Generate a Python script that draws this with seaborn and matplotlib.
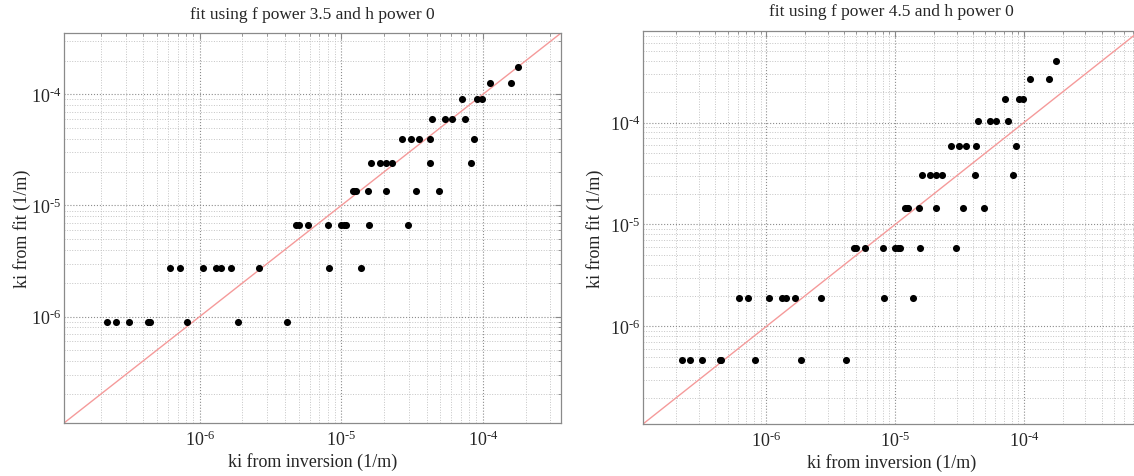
import numpy as np
import matplotlib
matplotlib.use('Agg')
import matplotlib.pyplot as plt
import matplotlib.ticker as mticker
import seaborn as sns

# ki from inversion, grouped by the fitted level they land on (lowest level first)
group_sizes = [8, 9, 9, 7, 6, 5, 4, 3, 2, 1]
ki_inversion = [
    2.21e-7, 2.55e-7, 3.17e-7, 4.34e-7, 4.44e-7, 8.1e-7, 1.87e-6, 4.12e-6,
    6.16e-7, 7.22e-7, 1.05e-6, 1.31e-6, 1.41e-6, 1.67e-6, 2.64e-6, 8.18e-6, 1.38e-5,
    4.8e-6, 5.0e-6, 5.85e-6, 8.1e-6, 1.0e-5, 1.05e-5, 1.08e-5, 1.56e-5, 2.94e-5,
    1.2e-5, 1.23e-5, 1.26e-5, 1.54e-5, 2.08e-5, 3.38e-5, 4.9e-5,
    1.62e-5, 1.87e-5, 2.06e-5, 2.29e-5, 4.2e-5, 8.27e-5,
    2.69e-5, 3.12e-5, 3.55e-5, 4.25e-5, 8.72e-5,
    4.36e-5, 5.4e-5, 6.02e-5, 7.5e-5,
    7.17e-5, 9.15e-5, 9.9e-5,
    1.12e-4, 1.57e-4,
    1.78e-4,
]

# ki from fit, one level per group
fit_levels_35 = [9.0e-7, 2.73e-6, 6.6e-6, 1.34e-5, 2.41e-5, 3.99e-5, 6.04e-5, 9.15e-5, 1.27e-4, 1.77e-4]
fit_levels_45 = [4.63e-7, 1.90e-6, 5.9e-6, 1.46e-5, 3.05e-5, 5.85e-5, 1.04e-4, 1.71e-4, 2.65e-4, 3.98e-4]

powers = ['3.5', '4.5']
limits_35 = [1.1e-7, 3.56e-4]
limits_45 = [1.1e-7, 7.96e-4]

sns.set_style('white')
plt.rcParams['font.family'] = ['Liberation Serif', 'DejaVu Serif']
plt.rcParams['mathtext.fontset'] = 'custom'
plt.rcParams['mathtext.rm'] = 'Liberation Serif'
plt.rcParams['mathtext.default'] = 'regular'


def pow10_label(v, pos):
    e = int(round(np.log10(v)))
    # short hyphen in the exponent, like the original figure
    return '10$^{%s}$' % (('\u2010' if e < 0 else '') + str(abs(e)))


fig = plt.figure(figsize=(11.34, 4.77), dpi=100)
ax_left = fig.add_axes([0.0564, 0.111, 0.4383, 0.8176])
ax_right = fig.add_axes([0.567, 0.109, 0.4383, 0.8245])

panels = [
    (ax_left, fit_levels_35, limits_35, powers[0], 0),
    (ax_right, fit_levels_45, limits_45, powers[1], 4),
]

for ax, levels, lims, p, ypad in panels:
    df = {'ki_inv': ki_inversion, 'ki_fit': np.repeat(levels, group_sizes)}
    ax.set_xscale('log')
    ax.set_yscale('log')
    ax.plot(lims, lims, color='#f59a9a', lw=1.0, zorder=2)
    sns.scatterplot(data=df, x='ki_inv', y='ki_fit', ax=ax, color='black',
                    s=26, edgecolor='black', linewidth=0, zorder=3)
    ax.set_xlim(lims)
    ax.set_ylim(lims)

    for axis in (ax.xaxis, ax.yaxis):
        axis.set_major_locator(mticker.LogLocator(base=10, numticks=20))
        axis.set_major_formatter(mticker.FuncFormatter(pow10_label))
        axis.set_minor_locator(mticker.LogLocator(base=10, subs=np.arange(2, 10), numticks=20))
        axis.set_minor_formatter(mticker.NullFormatter())

    ax.grid(True, which='major', color='#8c8c8c', linestyle=':', linewidth=0.8)
    ax.grid(True, which='minor', color='#c4c4c4', linestyle=':', linewidth=0.7)
    ax.set_axisbelow(True)
    ax.tick_params(which='both', direction='in', top=True, right=True,
                   color='#888888', labelsize=13)
    ax.tick_params(axis='y', which='major', pad=2)
    ax.tick_params(axis='x', which='major', pad=5)
    ax.tick_params(which='major', length=4)
    ax.tick_params(which='minor', length=2)
    for sp in ax.spines.values():
        sp.set_color('#8a8a8a')
        sp.set_linewidth(0.9)

    ax.set_xlabel('ki from inversion (1/m)', fontsize=13, labelpad=2)
    ax.set_ylabel('ki from fit (1/m)', fontsize=13, labelpad=ypad)
    ax.set_title(f'fit using f power {p} and h power 0', fontsize=12.5, pad=11)

fig.savefig('out.png', dpi=100)
